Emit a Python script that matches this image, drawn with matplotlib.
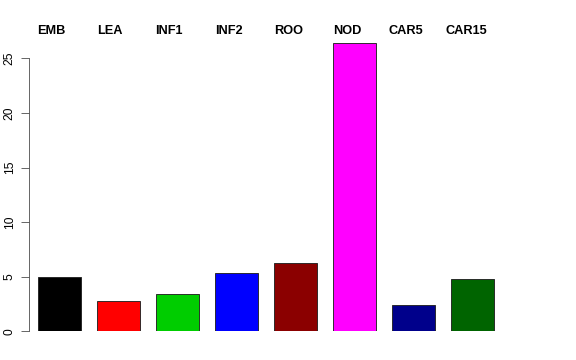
import matplotlib
matplotlib.use("Agg")
import matplotlib.pyplot as plt
from matplotlib.transforms import blended_transform_factory

tissues = ["EMB", "LEA", "INF1", "INF2", "ROO", "NOD", "CAR5", "CAR15"]
values = [5.0, 2.75, 3.42, 5.37, 6.25, 26.43, 2.44, 4.79]
colors = ["#000000", "#FF0000", "#00CD00", "#0000FF", "#8B0000", "#FF00FF", "#00008B", "#006400"]
yticks = [0, 5, 10, 15, 20, 25]

plt.rcParams["font.family"] = ["Liberation Sans", "DejaVu Sans"]

W, H = 576, 360
fig = plt.figure(figsize=(W / 72, H / 72), dpi=72)

# pixel geometry of the plot region (R barplot look)
px_unit_x = 59.0
first_center = 59.5
left_px = 28.7
right_px = 560
y0_px = 331.3
px_unit_y = 10.92
ytop = 27.0
top_px = y0_px - ytop * px_unit_y

ax = fig.add_axes([left_px / W, (H - y0_px) / H,
                   (right_px - left_px) / W, (y0_px - top_px) / H])
ax.set_xlim(-(first_center - left_px) / px_unit_x,
            (right_px - first_center) / px_unit_x)
ax.set_ylim(0, ytop)

x = list(range(len(values)))
ax.bar(x, values, width=1 / 1.4, color=colors, edgecolor="#222222", linewidth=0.9)

for spine in ["top", "right", "bottom"]:
    ax.spines[spine].set_visible(False)
ax.spines["left"].set_bounds(0, 25)
ax.spines["left"].set_color("#444444")
ax.set_xticks([])
ax.set_yticks(yticks)
ax.set_yticklabels([str(t) for t in yticks], rotation=90, va="center")
ax.tick_params(axis="y", length=8, pad=5, labelsize=12, color="#444444")

# names above the bars, slightly left of centre as in the reference
label_x = [-0.14, -0.14, -0.14, -0.13, -0.12, -0.12, -0.13, -0.11]
trans = blended_transform_factory(ax.transData, fig.transFigure)
for xi, dx, name in zip(x, label_x, tissues):
    ax.text(xi + dx, (H - 34) / H, name, transform=trans,
            ha="center", va="baseline", fontsize=12.8, fontweight="bold")

fig.savefig("out.png", dpi=72, facecolor="white")
